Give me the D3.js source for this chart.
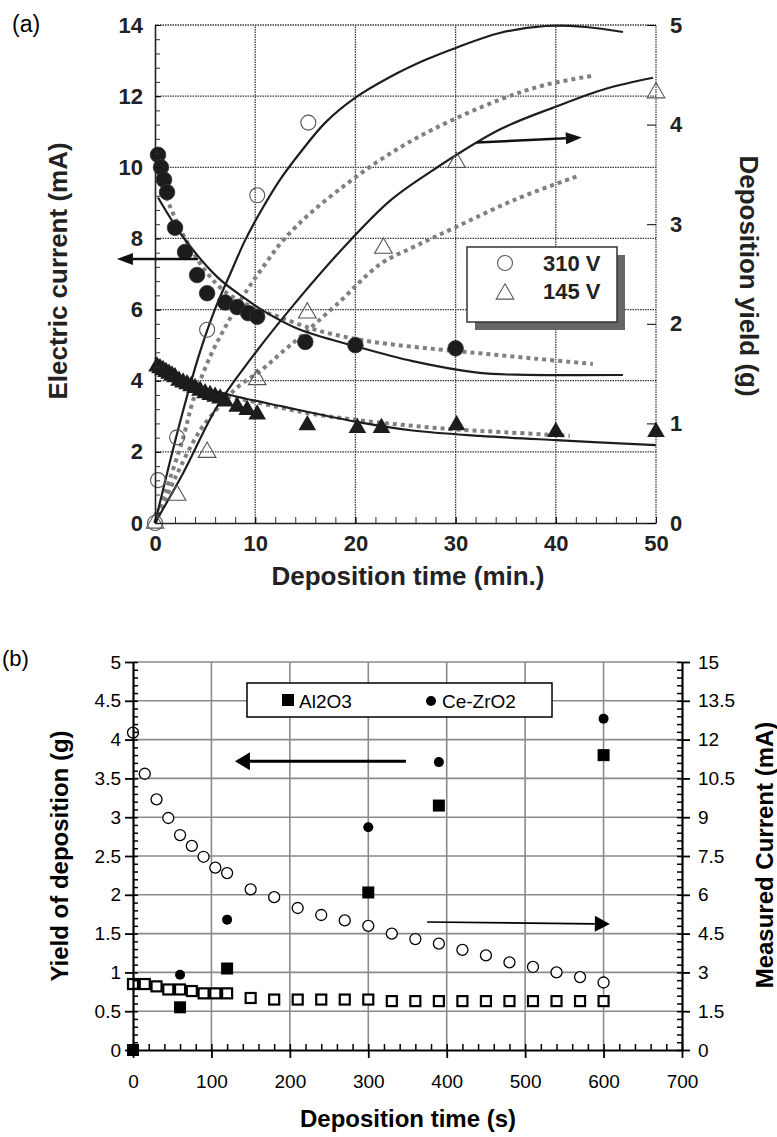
<!DOCTYPE html>
<html><head><meta charset="utf-8">
<script src="https://cdn.jsdelivr.net/npm/d3@7"></script>
<style>body{margin:0;background:#fff}svg{display:block}text{font-family:"Liberation Sans",Arial,sans-serif}</style>
</head><body>
<script>
// ---------- Panel (a) data ----------
const aXTicks = [0,10,20,30,40,50];
const aLeftTicks = [0,2,4,6,8,10,12,14];
const aRightTicks = [0,1,2,3,4,5];
// 310 V current (filled circles, mA)
const tCur310 = [0.3,0.6,0.9,1.2,2,3,4.2,5.2,7,8.2,9.3,10.2,15,20,30];
const cur310  = [10.35,10.0,9.65,9.3,8.3,7.62,6.97,6.46,6.2,6.07,5.9,5.8,5.09,5.0,4.91];
// 145 V current (filled triangles, mA)
const tCur145 = [0.2,0.5,0.8,1.1,1.4,1.7,2.0,2.4,2.8,3.2,3.6,4.0,4.5,5.0,5.5,6.0,6.5,7.0,8.2,9.2,10.2,15.2,20.2,22.6,30.1,40,50];
const cur145  = [4.4,4.35,4.3,4.25,4.2,4.15,4.1,4.0,3.95,3.9,3.85,3.8,3.72,3.65,3.6,3.55,3.5,3.42,3.27,3.18,3.05,2.75,2.67,2.67,2.75,2.56,2.56];
// 310 V yield (open circles, g)
const tYld310 = [0,0.3,2.2,5.2,10.2,15.3];
const yld310  = [0,0.43,0.86,1.94,3.29,4.02];
// 145 V yield (open triangles, g)
const tYld145 = [0,2.2,5.2,10.2,15.2,22.8,30.1,50];
const yld145  = [0,0.28,0.71,1.44,2.11,2.76,3.62,4.32];
// fitted curves
const sY310t = [0,1.5,3,4.5,6,7.5,9,10.5,12.5,14.5,17,20,23.5,27,30,34.4,39,43,46.7];
const sY310v = [0,0.62,1.2,1.72,2.15,2.5,2.84,3.12,3.45,3.72,4.02,4.27,4.48,4.65,4.77,4.92,4.99,4.98,4.93];
const dY310t = [0,1,2.8,3.8,5.5,7.3,9.2,11,12.8,15.5,19.2,23,27.7,34.4,39,43.7];
const dY310v = [0,0.3,0.85,1.23,1.67,2.02,2.34,2.6,2.84,3.11,3.41,3.68,3.95,4.25,4.4,4.49];
const sY145t = [0,2.8,6.2,9.5,14.5,19.5,23.5,27.7,34.4,40,45,49.7];
const sY145v = [0,0.5,1.17,1.64,2.27,2.84,3.24,3.54,3.95,4.18,4.36,4.47];
const dY145t = [0,2,4.5,6.5,8.2,10.8,12.5,14.5,18.2,22.5,26,30,36,42.4];
const dY145v = [0,0.45,0.93,1.18,1.36,1.55,1.7,1.87,2.2,2.6,2.78,2.97,3.25,3.49];
const sC310t = [0.3,2.8,6.2,8.8,11.2,14.5,20,25.7,32.4,36,46.7];
const sC310v = [9.15,8.04,6.92,6.35,5.9,5.43,4.97,4.55,4.22,4.17,4.16];
const dC310t = [0.3,1.5,3,5,7,9.5,12.3,15.8,19.5,22.5,29,32.4,38,43.7];
const dC310v = [9.8,8.9,8.0,7.1,6.5,6.1,5.8,5.45,5.2,5.06,4.86,4.77,4.62,4.47];
const sC145t = [0,3.5,7.5,12.8,20,25.7,32.4,40,50];
const sC145v = [4.65,3.93,3.6,3.27,2.85,2.6,2.45,2.33,2.19];
const dC145t = [0,3,6,10,15,20,25,30,35,41.4];
const dC145v = [4.5,4.0,3.65,3.4,3.1,2.9,2.75,2.63,2.55,2.45];
const aLegend = ["310 V","145 V"];

// ---------- Panel (b) data ----------
const bXTicks = [0,100,200,300,400,500,600,700];
const bLeftTicks = [0,0.5,1,1.5,2,2.5,3,3.5,4,4.5,5];
const bRightTicks = [0,1.5,3,4.5,6,7.5,9,10.5,12,13.5,15];
const tYieldB = [0,60,120,300,390,600];
const yieldAl = [0,0.55,1.05,2.03,3.15,3.8];
const yieldCe = [0,0.97,1.68,2.87,3.71,4.27];
const tCurB = [0,15,30,45,60,75,90,105,120,150,180,210,240,270,300,330,360,390,420,450,480,510,540,570,600];
const curCe = [12.27,10.68,9.69,8.97,8.31,7.89,7.47,7.05,6.84,6.21,5.91,5.49,5.22,5.01,4.8,4.5,4.29,4.11,3.87,3.66,3.39,3.21,3.0,2.82,2.61];
const curAl = [2.55,2.55,2.46,2.34,2.34,2.28,2.19,2.19,2.19,2.01,1.95,1.95,1.95,1.95,1.95,1.89,1.89,1.89,1.89,1.89,1.89,1.89,1.89,1.89,1.89];
const bLegend = ["Al2O3","Ce-ZrO2"];

const zip = (a,b)=>a.map((v,i)=>[v,b[i]]);

const svg = d3.select("body").append("svg").attr("width",777).attr("height",1137);

// ================= Panel (a) =================
const xA = d3.scaleLinear([0,50],[155,656]);
const yAL = d3.scaleLinear([0,14],[523,25]);
const yAR = d3.scaleLinear([0,5],[523,25]);
const gA = svg.append("g");

// grid (dotted dark)
const gridA = gA.append("g").attr("stroke","#3a3a3a").attr("stroke-width",1.3).attr("stroke-dasharray","1.5,1");
[10,20,30,40,50].forEach(v=>gridA.append("line").attr("x1",xA(v)).attr("x2",xA(v)).attr("y1",yAL(0)).attr("y2",yAL(14)));
[2,4,6,8,10,12,14].forEach(v=>gridA.append("line").attr("x1",xA(0)).attr("x2",xA(50)).attr("y1",yAL(v)).attr("y2",yAL(v)));

// curves
const lineA = (ys)=>d3.line().x(d=>xA(d[0])).y(d=>ys(d[1])).curve(d3.curveCatmullRom.alpha(0.5));
const dotted = (t,v,ys)=>gA.append("path").datum(zip(t,v)).attr("d",lineA(ys)).attr("fill","none")
  .attr("stroke","#808080").attr("stroke-width",4).attr("stroke-dasharray","4,4");
const solid = (t,v,ys)=>gA.append("path").datum(zip(t,v)).attr("d",lineA(ys)).attr("fill","none")
  .attr("stroke","#1e1e1e").attr("stroke-width",2.2);
dotted(dY310t,dY310v,yAR); dotted(dY145t,dY145v,yAR);
dotted(dC310t,dC310v,yAL); dotted(dC145t,dC145v,yAL);
solid(sY310t,sY310v,yAR); solid(sY145t,sY145v,yAR);
solid(sC310t,sC310v,yAL); solid(sC145t,sC145v,yAL);

// markers
const tri = d3.symbol().type(d3.symbolTriangle).size(135);
gA.append("g").selectAll("circle").data(zip(tYld310,yld310)).join("circle")
  .attr("cx",d=>xA(d[0])).attr("cy",d=>yAR(d[1])).attr("r",7.5).attr("fill","none").attr("stroke","#555").attr("stroke-width",1.1);
gA.append("g").selectAll("path").data(zip(tYld145,yld145)).join("path")
  .attr("transform",d=>`translate(${xA(d[0])},${yAR(d[1])})`).attr("d",tri).attr("fill","none").attr("stroke","#555").attr("stroke-width",1.1);
gA.append("g").selectAll("circle").data(zip(tCur310,cur310)).join("circle")
  .attr("cx",d=>xA(d[0])).attr("cy",d=>yAL(d[1])).attr("r",7.8).attr("fill","#1c1c1c").attr("stroke","#333").attr("stroke-width",0.8);
gA.append("g").selectAll("path").data(zip(tCur145,cur145)).join("path")
  .attr("transform",d=>`translate(${xA(d[0])},${yAL(d[1])})`).attr("d",tri).attr("fill","#1c1c1c");

// axes
const fontA = g=>g.selectAll("text").attr("font-size",22).attr("font-weight","bold").attr("fill","#222").attr("font-family","'Liberation Sans',Arial,sans-serif");
gA.append("g").attr("transform",`translate(${xA(0)},0)`)
  .call(d3.axisLeft(yAL).tickValues(d3.range(0,14.01,0.4)).tickSize(-5).tickSizeOuter(0).tickFormat(""))
  .call(g=>g.select(".domain").attr("stroke","#222").attr("stroke-width",1.6)).call(g=>g.selectAll(".tick line").attr("stroke","#333"));
gA.append("g").attr("transform",`translate(${xA(0)},0)`)
  .call(d3.axisLeft(yAL).tickValues(aLeftTicks).tickSize(-6).tickSizeOuter(0).tickPadding(12).tickFormat(d3.format("d")))
  .call(g=>g.select(".domain").remove()).call(fontA);
gA.append("g").attr("transform",`translate(0,${yAL(0)})`)
  .call(d3.axisBottom(xA).tickValues(d3.range(0,50.01,2)).tickSize(-6).tickSizeOuter(0).tickFormat(""))
  .call(g=>g.select(".domain").attr("stroke","#222").attr("stroke-width",1.6)).call(g=>g.selectAll(".tick line").attr("stroke","#333"));
gA.append("g").attr("transform",`translate(0,${yAL(0)})`)
  .call(d3.axisBottom(xA).tickValues(aXTicks).tickSize(-6).tickSizeOuter(0).tickPadding(12).tickFormat(d3.format("d")))
  .call(g=>g.select(".domain").remove()).call(fontA);
gA.append("g").attr("transform",`translate(${xA(50)},0)`)
  .call(d3.axisRight(yAR).tickValues(aRightTicks).tickSize(-9).tickSizeOuter(0).tickPadding(14).tickFormat(d3.format("d")))
  .call(g=>g.select(".domain").remove()).call(fontA);

// titles
gA.append("text").attr("transform","translate(67,271) rotate(-90)").attr("text-anchor","middle")
  .attr("font-size",26).attr("font-weight","bold").attr("fill","#222").text("Electric current (mA)");
gA.append("text").attr("transform","translate(740,276) rotate(90)").attr("text-anchor","middle")
  .attr("font-size",26).attr("font-weight","bold").attr("fill","#222").text("Deposition yield (g)");
gA.append("text").attr("x",408).attr("y",585).attr("text-anchor","middle")
  .attr("font-size",26).attr("font-weight","bold").attr("fill","#222").text("Deposition time (min.)");
svg.append("text").attr("x",12).attr("y",32).attr("font-family","'Liberation Serif','Times New Roman',serif")
  .attr("font-size",23).attr("fill","#000").text("(a)");

// legend (a)
const lgA = gA.append("g");
lgA.append("rect").attr("x",475).attr("y",255).attr("width",150).attr("height",75).attr("fill","#666");
lgA.append("rect").attr("x",467).attr("y",247).attr("width",150).attr("height",75).attr("fill","#fff").attr("stroke","#333").attr("stroke-width",1.5);
lgA.append("circle").attr("cx",505).attr("cy",263).attr("r",7.5).attr("fill","none").attr("stroke","#555").attr("stroke-width",1.1);
lgA.append("path").attr("transform","translate(505,294)").attr("d",tri).attr("fill","none").attr("stroke","#555").attr("stroke-width",1.1);
lgA.selectAll("text").data(aLegend).join("text").attr("x",543).attr("y",(d,i)=>271+i*28)
  .attr("font-size",22).attr("font-weight","bold").attr("fill","#222").text(d=>d);

// arrows
function arrow(g,x1,y1,x2,y2,w,hl,hw,col){
  const a=Math.atan2(y2-y1,x2-x1), bx=x2-hl*Math.cos(a), by=y2-hl*Math.sin(a);
  g.append("line").attr("x1",x1).attr("y1",y1).attr("x2",bx).attr("y2",by).attr("stroke",col).attr("stroke-width",w);
  const px=-Math.sin(a)*hw/2, py=Math.cos(a)*hw/2;
  g.append("path").attr("d",`M${x2},${y2}L${bx+px},${by+py}L${bx-px},${by-py}Z`).attr("fill",col);
}
arrow(gA,xA(4.3),yAL(7.42),xA(-3.8),yAL(7.42),2.5,16,12,"#111");
arrow(gA,xA(32.1),yAR(3.82),xA(42.6),yAR(3.87),2.5,16,12,"#111");

// ================= Panel (b) =================
const xB = d3.scaleLinear([0,700],[133,682]);
const yBL = d3.scaleLinear([0,5],[1050,662]);
const yBR = d3.scaleLinear([0,15],[1050,662]);
const gB = svg.append("g");
const gridB = gB.append("g").attr("stroke","#8a8a8a").attr("stroke-width",1.6);
bXTicks.slice(1,-1).forEach(v=>gridB.append("line").attr("x1",xB(v)).attr("x2",xB(v)).attr("y1",yBL(0)).attr("y2",yBL(5)));
bLeftTicks.slice(1).forEach(v=>gridB.append("line").attr("x1",xB(0)).attr("x2",xB(700)).attr("y1",yBL(v)).attr("y2",yBL(v)));

// legend box (b)
const lgB = gB.append("g");
lgB.append("rect").attr("x",247).attr("y",683).attr("width",305).attr("height",34).attr("fill","#fff").attr("stroke","#000").attr("stroke-width",1.5);
lgB.append("rect").attr("x",282).attr("y",694).attr("width",12).attr("height",12).attr("fill","#000");
lgB.append("circle").attr("cx",431).attr("cy",701).attr("r",5).attr("fill","#000");
lgB.selectAll("text").data(bLegend).join("text").attr("x",(d,i)=>i?442:299).attr("y",708)
  .attr("font-size",19).attr("fill","#000").text(d=>d);

// open markers (current, right axis)
gB.append("g").selectAll("rect").data(zip(tCurB,curAl)).join("rect")
  .attr("x",d=>xB(d[0])-5).attr("y",d=>yBR(d[1])-5).attr("width",10).attr("height",10)
  .attr("fill","#fff").attr("stroke","#000").attr("stroke-width",2.2);
gB.append("g").selectAll("circle").data(zip(tCurB,curCe)).join("circle")
  .attr("cx",d=>xB(d[0])).attr("cy",d=>yBR(d[1])).attr("r",5.5).attr("fill","#fff").attr("stroke","#000").attr("stroke-width",1.3);
// filled markers (yield, left axis)
gB.append("g").selectAll("rect").data(zip(tYieldB,yieldAl)).join("rect")
  .attr("x",d=>xB(d[0])-6).attr("y",d=>yBL(d[1])-6).attr("width",12).attr("height",12).attr("fill","#000");
gB.append("g").selectAll("circle").data(zip(tYieldB,yieldCe)).join("circle")
  .attr("cx",d=>xB(d[0])).attr("cy",d=>yBL(d[1])).attr("r",5).attr("fill","#000");

// axes (b)
const fontB = g=>g.selectAll("text").attr("font-size",19).attr("fill","#000").attr("font-family","'Liberation Sans',Arial,sans-serif");
const blackDomain = g=>g.select(".domain").attr("stroke","#000").attr("stroke-width",2.2);
gB.append("g").attr("transform",`translate(${xB(0)},0)`)
  .call(d3.axisLeft(yBL).tickValues(d3.range(0,5.001,0.1)).tickSize(-5).tickSizeOuter(0).tickFormat(""))
  .call(blackDomain).call(g=>g.selectAll(".tick line").attr("stroke-width",1.5));
gB.append("g").attr("transform",`translate(${xB(0)},0)`)
  .call(d3.axisLeft(yBL).tickValues(bLeftTicks).tickSize(8).tickSizeOuter(0).tickPadding(4).tickFormat(d=>String(d)))
  .call(g=>g.select(".domain").remove()).call(g=>g.selectAll(".tick line").attr("stroke-width",1.8)).call(fontB);
gB.append("g").attr("transform",`translate(0,${yBL(0)})`)
  .call(d3.axisBottom(xB).tickValues(d3.range(0,700.1,20)).tickSize(-6).tickSizeOuter(0).tickFormat(""))
  .call(blackDomain).call(g=>g.selectAll(".tick line").attr("stroke-width",1.5));
gB.append("g").attr("transform",`translate(0,${yBL(0)})`)
  .call(d3.axisBottom(xB).tickValues(bXTicks).tickSize(8).tickSizeOuter(0).tickPadding(17).tickFormat(d3.format("d")))
  .call(g=>g.select(".domain").remove()).call(g=>g.selectAll(".tick line").attr("stroke-width",1.8)).call(fontB);
gB.append("g").attr("transform",`translate(${xB(700)},0)`)
  .call(d3.axisRight(yBR).tickValues(d3.range(0,15.001,0.3)).tickSize(-5).tickSizeOuter(0).tickFormat(""))
  .call(blackDomain).call(g=>g.selectAll(".tick line").attr("stroke-width",1.5));
gB.append("g").attr("transform",`translate(${xB(700)},0)`)
  .call(d3.axisRight(yBR).tickValues(bRightTicks).tickSize(8).tickSizeOuter(0).tickPadding(8).tickFormat(d=>String(d)))
  .call(g=>g.select(".domain").remove()).call(g=>g.selectAll(".tick line").attr("stroke-width",1.8)).call(fontB);

// titles (b)
gB.append("text").attr("transform","translate(68,856) rotate(-90)").attr("text-anchor","middle")
  .attr("font-size",24).attr("font-weight","bold").attr("fill","#000").text("Yield of deposition (g)");
gB.append("text").attr("transform","translate(773,855) rotate(-90)").attr("text-anchor","middle")
  .attr("font-size",24).attr("font-weight","bold").attr("fill","#000").text("Measured Current (mA)");
gB.append("text").attr("x",408).attr("y",1127).attr("text-anchor","middle")
  .attr("font-size",24).attr("font-weight","bold").attr("fill","#000").text("Deposition time (s)");
svg.append("text").attr("x",2).attr("y",666).attr("font-size",22).attr("fill","#000").text("(b)");

// arrows (b)
arrow(gB,xB(348),yBL(3.72),xB(130),yBL(3.72),3,15,18,"#000");
arrow(gB,xB(375),yBR(4.95),xB(608),yBR(4.87),1.6,15,16,"#000");
</script>
</body></html>
